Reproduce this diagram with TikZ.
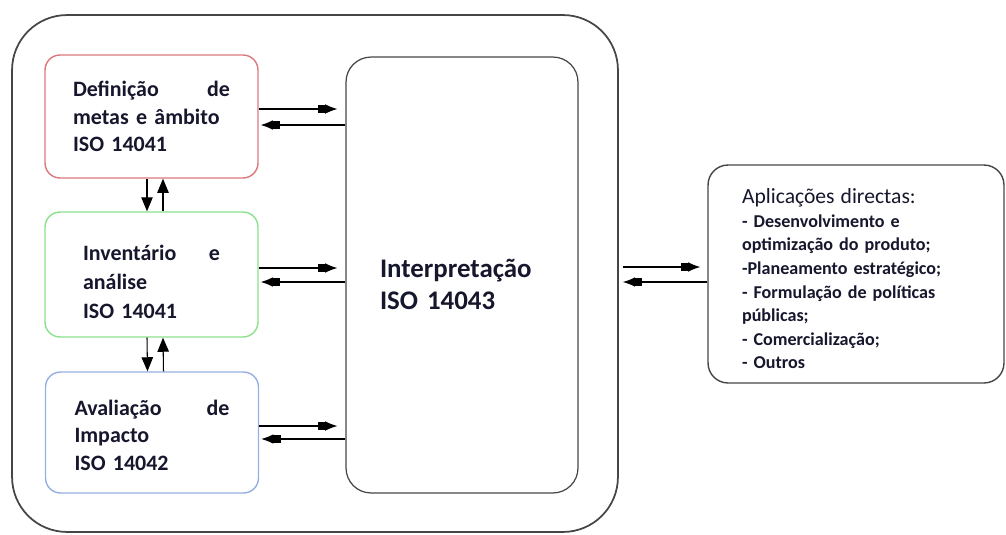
\documentclass[tikz,border=0pt]{standalone}
\usepackage{fontspec}
\setmainfont{Carlito}
\usepackage{xcolor}
\usetikzlibrary{arrows.meta}

\definecolor{txtnavy}{RGB}{22,22,45}
\definecolor{framegray}{RGB}{70,70,70}
\definecolor{goalred}{RGB}{220,120,125}
\definecolor{invgreen}{RGB}{140,225,140}
\definecolor{impblue}{RGB}{150,175,225}

\begin{document}
\begin{tikzpicture}[
        x=0.02cm, y=-0.02cm,
        stagebox/.style={
            rectangle,
            draw,
            rounded corners=0.3cm,
            line width=0.8pt,
            align=left,
            minimum width=4.26cm,
            minimum height=2.46cm,
            text=txtnavy,
            font=\fontsize{12.5}{15.8}\selectfont\bfseries
        },
        interbox/.style={
            rectangle,
            draw=framegray,
            rounded corners=0.5cm,
            line width=0.7pt,
            align=left,
            text width=3.28cm,
            minimum width=4.64cm,
            minimum height=8.72cm,
            text=txtnavy,
            font=\fontsize{15.3}{18.2}\selectfont\bfseries
        },
        appbox/.style={
            rectangle,
            draw=framegray,
            rounded corners=0.4cm,
            line width=0.8pt,
            align=left,
            text width=4.56cm,
            minimum width=5.92cm,
            minimum height=4.36cm,
            text=txtnavy,
            font=\fontsize{10.3}{13.4}\selectfont\bfseries
        },
        harrow/.style={
            line width=0.6pt,
            -{Rectangle[length=4pt,width=5pt] Latex[length=7pt,width=5.5pt]}
        },
        varrow/.style={
            line width=0.6pt,
            -{Triangle[length=8pt,width=6.5pt]}
        }
    ]
    \useasboundingbox (0,0) rectangle (1006,534);

    % ---------- outer frame ----------
    \node[draw=framegray, line width=1pt, rounded corners=1.1cm,
          minimum width=12.12cm, minimum height=10.34cm] (frame) at (315,273.5) {};

    % ---------- left column: LCA phases ----------
    \node[stagebox, draw=goalred, text width=3.14cm] (goal) at (151.5,116.5)
        {Definição\hfill de\\metas e âmbito\\ISO 14041};
    \node[stagebox, draw=invgreen, text width=2.74cm, minimum height=2.5cm,
          font=\fontsize{12.5}{16.4}\selectfont\bfseries] (inv) at (151.5,274.5)
        {\rule{0pt}{17pt}Inventário\hfill e\\análise\\ISO 14041};
    \node[stagebox, draw=impblue, text width=3.1cm, minimum height=2.42cm] (imp) at (152,432.5)
        {\rule{0pt}{12pt}Avaliação\hfill de\\Impacto\\ISO 14042};

    % ---------- interpretation ----------
    \node[interbox] (interp) at (462,275) {\rule{0pt}{21pt}Interpretação\\ISO 14043};

    % ---------- applications ----------
    \node[appbox] (apps) at (856,274)
        {{\fontsize{12.3}{13.8}\selectfont\mdseries\rule{0pt}{14pt}Aplicações directas:}\\
         - Desenvolvimento e\\
         optimização do produto;\\
         -Planeamento estratégico;\\
         - Formulação de políticas\\
         públicas;\\
         - Comercialização;\\
         - Outros};

    % vertical links
    \draw[varrow] ([xshift=-0.09cm]goal.south) -- ([xshift=-0.09cm]inv.north);
    \draw[varrow] ([xshift=0.23cm]inv.north) -- ([xshift=0.23cm]goal.south);
    \draw[varrow] ([xshift=-0.09cm]inv.south) -- ([xshift=-0.09cm]imp.north);
    \draw[varrow] ([xshift=0.23cm]imp.north) -- ([xshift=0.23cm]inv.south);

    % horizontal links to interpretation
    \draw[harrow] ([yshift=0.15cm]goal.east) -- ([xshift=-0.16cm,yshift=0.15cm]goal.east -| interp.west);
    \draw[harrow] ([yshift=-0.17cm]goal.east -| interp.west) -- ([xshift=0.04cm,yshift=-0.17cm]goal.east);
    \draw[harrow] ([yshift=0.13cm]inv.east) -- ([xshift=-0.16cm,yshift=0.13cm]inv.east -| interp.west);
    \draw[harrow] ([yshift=-0.15cm]inv.east -| interp.west) -- ([xshift=0.04cm,yshift=-0.15cm]inv.east);
    \draw[harrow] ([yshift=0.13cm]imp.east) -- ([xshift=-0.16cm,yshift=0.13cm]imp.east -| interp.west);
    \draw[harrow] ([yshift=-0.13cm]imp.east -| interp.west) -- ([xshift=0.04cm,yshift=-0.13cm]imp.east);

    % frame <-> applications
    \draw[harrow] ([xshift=0.08cm,yshift=0.13cm]frame.east) -- ([xshift=-0.14cm,yshift=0.13cm]frame.east -| apps.west);
    \draw[harrow] ([yshift=-0.17cm]frame.east -| apps.west) -- ([xshift=0.08cm,yshift=-0.17cm]frame.east);

\end{tikzpicture}
\end{document}
